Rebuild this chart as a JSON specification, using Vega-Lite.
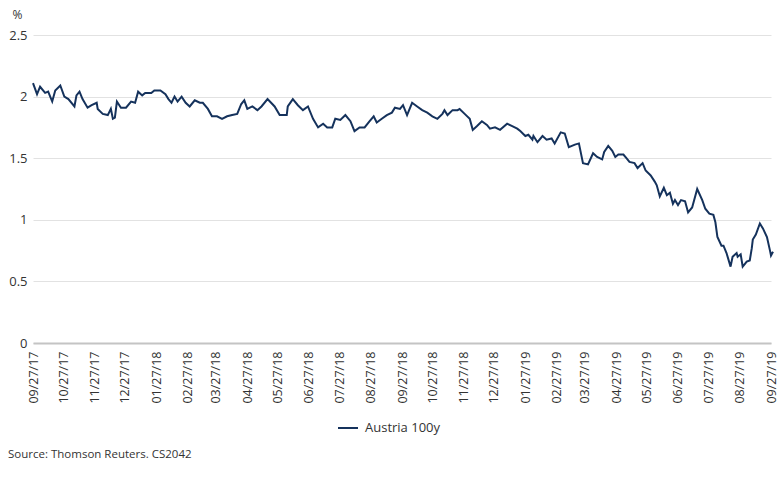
{
  "$schema": "https://vega.github.io/schema/vega-lite/v6.json",
  "width": 738,
  "height": 308,
  "autosize": {"type": "none"},
  "padding": {"left": 33, "top": 35, "right": 12, "bottom": 147},
  "background": "white",
  "config": {
    "view": {"stroke": null},
    "font": "Open Sans",
    "axis": {"labelFont": "Open Sans", "titleFont": "Open Sans", "labelColor": "#333333", "titleColor": "#333333"}
  },
  "title": {
    "text": "Source: Thomson Reuters. CS2042",
    "orient": "bottom",
    "anchor": "start",
    "frame": "group",
    "font": "Open Sans",
    "fontSize": 11.5,
    "fontWeight": "normal",
    "color": "#333333",
    "dx": -25,
    "offset": 14
  },
  "data": {
    "values": [
      {"date": "2017-09-27", "v": 2.11, "series": "Austria 100y"},
      {"date": "2017-10-01", "v": 2.02, "series": "Austria 100y"},
      {"date": "2017-10-04", "v": 2.08, "series": "Austria 100y"},
      {"date": "2017-10-09", "v": 2.03, "series": "Austria 100y"},
      {"date": "2017-10-12", "v": 2.04, "series": "Austria 100y"},
      {"date": "2017-10-16", "v": 1.96, "series": "Austria 100y"},
      {"date": "2017-10-19", "v": 2.05, "series": "Austria 100y"},
      {"date": "2017-10-24", "v": 2.09, "series": "Austria 100y"},
      {"date": "2017-10-28", "v": 2.00, "series": "Austria 100y"},
      {"date": "2017-11-01", "v": 1.98, "series": "Austria 100y"},
      {"date": "2017-11-07", "v": 1.92, "series": "Austria 100y"},
      {"date": "2017-11-09", "v": 2.01, "series": "Austria 100y"},
      {"date": "2017-11-12", "v": 2.04, "series": "Austria 100y"},
      {"date": "2017-11-15", "v": 1.98, "series": "Austria 100y"},
      {"date": "2017-11-20", "v": 1.91, "series": "Austria 100y"},
      {"date": "2017-11-24", "v": 1.93, "series": "Austria 100y"},
      {"date": "2017-11-29", "v": 1.95, "series": "Austria 100y"},
      {"date": "2017-11-30", "v": 1.90, "series": "Austria 100y"},
      {"date": "2017-12-05", "v": 1.86, "series": "Austria 100y"},
      {"date": "2017-12-10", "v": 1.85, "series": "Austria 100y"},
      {"date": "2017-12-13", "v": 1.90, "series": "Austria 100y"},
      {"date": "2017-12-15", "v": 1.82, "series": "Austria 100y"},
      {"date": "2017-12-17", "v": 1.83, "series": "Austria 100y"},
      {"date": "2017-12-19", "v": 1.96, "series": "Austria 100y"},
      {"date": "2017-12-23", "v": 1.91, "series": "Austria 100y"},
      {"date": "2017-12-28", "v": 1.91, "series": "Austria 100y"},
      {"date": "2018-01-02", "v": 1.96, "series": "Austria 100y"},
      {"date": "2018-01-06", "v": 1.95, "series": "Austria 100y"},
      {"date": "2018-01-09", "v": 2.04, "series": "Austria 100y"},
      {"date": "2018-01-13", "v": 2.01, "series": "Austria 100y"},
      {"date": "2018-01-16", "v": 2.03, "series": "Austria 100y"},
      {"date": "2018-01-22", "v": 2.03, "series": "Austria 100y"},
      {"date": "2018-01-25", "v": 2.05, "series": "Austria 100y"},
      {"date": "2018-01-31", "v": 2.05, "series": "Austria 100y"},
      {"date": "2018-02-05", "v": 2.02, "series": "Austria 100y"},
      {"date": "2018-02-08", "v": 1.98, "series": "Austria 100y"},
      {"date": "2018-02-11", "v": 1.95, "series": "Austria 100y"},
      {"date": "2018-02-14", "v": 2.00, "series": "Austria 100y"},
      {"date": "2018-02-17", "v": 1.96, "series": "Austria 100y"},
      {"date": "2018-02-21", "v": 2.00, "series": "Austria 100y"},
      {"date": "2018-02-25", "v": 1.95, "series": "Austria 100y"},
      {"date": "2018-03-01", "v": 1.92, "series": "Austria 100y"},
      {"date": "2018-03-06", "v": 1.97, "series": "Austria 100y"},
      {"date": "2018-03-11", "v": 1.95, "series": "Austria 100y"},
      {"date": "2018-03-14", "v": 1.95, "series": "Austria 100y"},
      {"date": "2018-03-19", "v": 1.90, "series": "Austria 100y"},
      {"date": "2018-03-23", "v": 1.84, "series": "Austria 100y"},
      {"date": "2018-03-28", "v": 1.84, "series": "Austria 100y"},
      {"date": "2018-04-02", "v": 1.82, "series": "Austria 100y"},
      {"date": "2018-04-07", "v": 1.84, "series": "Austria 100y"},
      {"date": "2018-04-12", "v": 1.85, "series": "Austria 100y"},
      {"date": "2018-04-17", "v": 1.86, "series": "Austria 100y"},
      {"date": "2018-04-21", "v": 1.94, "series": "Austria 100y"},
      {"date": "2018-04-24", "v": 1.97, "series": "Austria 100y"},
      {"date": "2018-04-27", "v": 1.90, "series": "Austria 100y"},
      {"date": "2018-05-02", "v": 1.92, "series": "Austria 100y"},
      {"date": "2018-05-07", "v": 1.89, "series": "Austria 100y"},
      {"date": "2018-05-11", "v": 1.92, "series": "Austria 100y"},
      {"date": "2018-05-17", "v": 1.98, "series": "Austria 100y"},
      {"date": "2018-05-24", "v": 1.92, "series": "Austria 100y"},
      {"date": "2018-05-29", "v": 1.85, "series": "Austria 100y"},
      {"date": "2018-06-05", "v": 1.85, "series": "Austria 100y"},
      {"date": "2018-06-06", "v": 1.92, "series": "Austria 100y"},
      {"date": "2018-06-11", "v": 1.98, "series": "Austria 100y"},
      {"date": "2018-06-16", "v": 1.93, "series": "Austria 100y"},
      {"date": "2018-06-21", "v": 1.89, "series": "Austria 100y"},
      {"date": "2018-06-26", "v": 1.92, "series": "Austria 100y"},
      {"date": "2018-07-01", "v": 1.82, "series": "Austria 100y"},
      {"date": "2018-07-06", "v": 1.75, "series": "Austria 100y"},
      {"date": "2018-07-11", "v": 1.78, "series": "Austria 100y"},
      {"date": "2018-07-15", "v": 1.75, "series": "Austria 100y"},
      {"date": "2018-07-20", "v": 1.75, "series": "Austria 100y"},
      {"date": "2018-07-23", "v": 1.82, "series": "Austria 100y"},
      {"date": "2018-07-28", "v": 1.81, "series": "Austria 100y"},
      {"date": "2018-08-02", "v": 1.85, "series": "Austria 100y"},
      {"date": "2018-08-07", "v": 1.80, "series": "Austria 100y"},
      {"date": "2018-08-11", "v": 1.72, "series": "Austria 100y"},
      {"date": "2018-08-16", "v": 1.75, "series": "Austria 100y"},
      {"date": "2018-08-21", "v": 1.75, "series": "Austria 100y"},
      {"date": "2018-08-26", "v": 1.80, "series": "Austria 100y"},
      {"date": "2018-08-30", "v": 1.84, "series": "Austria 100y"},
      {"date": "2018-09-02", "v": 1.79, "series": "Austria 100y"},
      {"date": "2018-09-07", "v": 1.82, "series": "Austria 100y"},
      {"date": "2018-09-12", "v": 1.85, "series": "Austria 100y"},
      {"date": "2018-09-17", "v": 1.87, "series": "Austria 100y"},
      {"date": "2018-09-20", "v": 1.91, "series": "Austria 100y"},
      {"date": "2018-09-25", "v": 1.90, "series": "Austria 100y"},
      {"date": "2018-09-28", "v": 1.93, "series": "Austria 100y"},
      {"date": "2018-10-02", "v": 1.85, "series": "Austria 100y"},
      {"date": "2018-10-07", "v": 1.95, "series": "Austria 100y"},
      {"date": "2018-10-12", "v": 1.92, "series": "Austria 100y"},
      {"date": "2018-10-17", "v": 1.89, "series": "Austria 100y"},
      {"date": "2018-10-22", "v": 1.87, "series": "Austria 100y"},
      {"date": "2018-10-27", "v": 1.84, "series": "Austria 100y"},
      {"date": "2018-11-01", "v": 1.82, "series": "Austria 100y"},
      {"date": "2018-11-06", "v": 1.86, "series": "Austria 100y"},
      {"date": "2018-11-08", "v": 1.89, "series": "Austria 100y"},
      {"date": "2018-11-11", "v": 1.85, "series": "Austria 100y"},
      {"date": "2018-11-16", "v": 1.89, "series": "Austria 100y"},
      {"date": "2018-11-21", "v": 1.89, "series": "Austria 100y"},
      {"date": "2018-11-23", "v": 1.90, "series": "Austria 100y"},
      {"date": "2018-11-28", "v": 1.86, "series": "Austria 100y"},
      {"date": "2018-12-03", "v": 1.82, "series": "Austria 100y"},
      {"date": "2018-12-06", "v": 1.73, "series": "Austria 100y"},
      {"date": "2018-12-10", "v": 1.76, "series": "Austria 100y"},
      {"date": "2018-12-15", "v": 1.80, "series": "Austria 100y"},
      {"date": "2018-12-20", "v": 1.77, "series": "Austria 100y"},
      {"date": "2018-12-23", "v": 1.74, "series": "Austria 100y"},
      {"date": "2018-12-28", "v": 1.75, "series": "Austria 100y"},
      {"date": "2019-01-02", "v": 1.73, "series": "Austria 100y"},
      {"date": "2019-01-09", "v": 1.78, "series": "Austria 100y"},
      {"date": "2019-01-14", "v": 1.76, "series": "Austria 100y"},
      {"date": "2019-01-19", "v": 1.74, "series": "Austria 100y"},
      {"date": "2019-01-22", "v": 1.72, "series": "Austria 100y"},
      {"date": "2019-01-27", "v": 1.68, "series": "Austria 100y"},
      {"date": "2019-01-30", "v": 1.69, "series": "Austria 100y"},
      {"date": "2019-02-03", "v": 1.65, "series": "Austria 100y"},
      {"date": "2019-02-04", "v": 1.68, "series": "Austria 100y"},
      {"date": "2019-02-08", "v": 1.63, "series": "Austria 100y"},
      {"date": "2019-02-13", "v": 1.68, "series": "Austria 100y"},
      {"date": "2019-02-17", "v": 1.65, "series": "Austria 100y"},
      {"date": "2019-02-22", "v": 1.66, "series": "Austria 100y"},
      {"date": "2019-02-25", "v": 1.62, "series": "Austria 100y"},
      {"date": "2019-03-03", "v": 1.71, "series": "Austria 100y"},
      {"date": "2019-03-07", "v": 1.70, "series": "Austria 100y"},
      {"date": "2019-03-11", "v": 1.59, "series": "Austria 100y"},
      {"date": "2019-03-17", "v": 1.61, "series": "Austria 100y"},
      {"date": "2019-03-21", "v": 1.62, "series": "Austria 100y"},
      {"date": "2019-03-25", "v": 1.46, "series": "Austria 100y"},
      {"date": "2019-03-30", "v": 1.45, "series": "Austria 100y"},
      {"date": "2019-04-04", "v": 1.54, "series": "Austria 100y"},
      {"date": "2019-04-08", "v": 1.51, "series": "Austria 100y"},
      {"date": "2019-04-13", "v": 1.49, "series": "Austria 100y"},
      {"date": "2019-04-15", "v": 1.55, "series": "Austria 100y"},
      {"date": "2019-04-19", "v": 1.60, "series": "Austria 100y"},
      {"date": "2019-04-23", "v": 1.56, "series": "Austria 100y"},
      {"date": "2019-04-26", "v": 1.51, "series": "Austria 100y"},
      {"date": "2019-04-29", "v": 1.53, "series": "Austria 100y"},
      {"date": "2019-05-04", "v": 1.53, "series": "Austria 100y"},
      {"date": "2019-05-07", "v": 1.50, "series": "Austria 100y"},
      {"date": "2019-05-10", "v": 1.47, "series": "Austria 100y"},
      {"date": "2019-05-15", "v": 1.46, "series": "Austria 100y"},
      {"date": "2019-05-18", "v": 1.42, "series": "Austria 100y"},
      {"date": "2019-05-23", "v": 1.46, "series": "Austria 100y"},
      {"date": "2019-05-26", "v": 1.40, "series": "Austria 100y"},
      {"date": "2019-05-31", "v": 1.36, "series": "Austria 100y"},
      {"date": "2019-06-04", "v": 1.31, "series": "Austria 100y"},
      {"date": "2019-06-06", "v": 1.28, "series": "Austria 100y"},
      {"date": "2019-06-09", "v": 1.19, "series": "Austria 100y"},
      {"date": "2019-06-13", "v": 1.26, "series": "Austria 100y"},
      {"date": "2019-06-16", "v": 1.20, "series": "Austria 100y"},
      {"date": "2019-06-19", "v": 1.22, "series": "Austria 100y"},
      {"date": "2019-06-22", "v": 1.13, "series": "Austria 100y"},
      {"date": "2019-06-24", "v": 1.16, "series": "Austria 100y"},
      {"date": "2019-06-27", "v": 1.12, "series": "Austria 100y"},
      {"date": "2019-06-30", "v": 1.16, "series": "Austria 100y"},
      {"date": "2019-07-04", "v": 1.15, "series": "Austria 100y"},
      {"date": "2019-07-07", "v": 1.06, "series": "Austria 100y"},
      {"date": "2019-07-11", "v": 1.10, "series": "Austria 100y"},
      {"date": "2019-07-16", "v": 1.25, "series": "Austria 100y"},
      {"date": "2019-07-21", "v": 1.16, "series": "Austria 100y"},
      {"date": "2019-07-24", "v": 1.09, "series": "Austria 100y"},
      {"date": "2019-07-28", "v": 1.05, "series": "Austria 100y"},
      {"date": "2019-08-01", "v": 1.04, "series": "Austria 100y"},
      {"date": "2019-08-03", "v": 0.98, "series": "Austria 100y"},
      {"date": "2019-08-05", "v": 0.86, "series": "Austria 100y"},
      {"date": "2019-08-09", "v": 0.79, "series": "Austria 100y"},
      {"date": "2019-08-11", "v": 0.79, "series": "Austria 100y"},
      {"date": "2019-08-14", "v": 0.73, "series": "Austria 100y"},
      {"date": "2019-08-18", "v": 0.62, "series": "Austria 100y"},
      {"date": "2019-08-20", "v": 0.70, "series": "Austria 100y"},
      {"date": "2019-08-24", "v": 0.73, "series": "Austria 100y"},
      {"date": "2019-08-25", "v": 0.70, "series": "Austria 100y"},
      {"date": "2019-08-28", "v": 0.72, "series": "Austria 100y"},
      {"date": "2019-08-30", "v": 0.62, "series": "Austria 100y"},
      {"date": "2019-09-03", "v": 0.66, "series": "Austria 100y"},
      {"date": "2019-09-06", "v": 0.67, "series": "Austria 100y"},
      {"date": "2019-09-08", "v": 0.77, "series": "Austria 100y"},
      {"date": "2019-09-09", "v": 0.84, "series": "Austria 100y"},
      {"date": "2019-09-12", "v": 0.88, "series": "Austria 100y"},
      {"date": "2019-09-16", "v": 0.97, "series": "Austria 100y"},
      {"date": "2019-09-19", "v": 0.93, "series": "Austria 100y"},
      {"date": "2019-09-23", "v": 0.86, "series": "Austria 100y"},
      {"date": "2019-09-26", "v": 0.75, "series": "Austria 100y"},
      {"date": "2019-09-27", "v": 0.71, "series": "Austria 100y"},
      {"date": "2019-09-29", "v": 0.74, "series": "Austria 100y"}
    ]
  },
  "mark": {"type": "line", "strokeWidth": 2, "interpolate": "linear", "clip": false},
  "encoding": {
    "x": {
      "field": "date",
      "type": "temporal",
      "scale": {"type": "utc", "domain": [{"year": 2017, "month": 9, "date": 27, "utc": true}, {"year": 2019, "month": 9, "date": 27, "utc": true}]},
      "axis": {
        "title": null,
        "values": [
          {"year": 2017, "month": 9, "date": 27, "utc": true},
          {"year": 2017, "month": 10, "date": 27, "utc": true},
          {"year": 2017, "month": 11, "date": 27, "utc": true},
          {"year": 2017, "month": 12, "date": 27, "utc": true},
          {"year": 2018, "month": 1, "date": 27, "utc": true},
          {"year": 2018, "month": 2, "date": 27, "utc": true},
          {"year": 2018, "month": 3, "date": 27, "utc": true},
          {"year": 2018, "month": 4, "date": 27, "utc": true},
          {"year": 2018, "month": 5, "date": 27, "utc": true},
          {"year": 2018, "month": 6, "date": 27, "utc": true},
          {"year": 2018, "month": 7, "date": 27, "utc": true},
          {"year": 2018, "month": 8, "date": 27, "utc": true},
          {"year": 2018, "month": 9, "date": 27, "utc": true},
          {"year": 2018, "month": 10, "date": 27, "utc": true},
          {"year": 2018, "month": 11, "date": 27, "utc": true},
          {"year": 2018, "month": 12, "date": 27, "utc": true},
          {"year": 2019, "month": 1, "date": 27, "utc": true},
          {"year": 2019, "month": 2, "date": 27, "utc": true},
          {"year": 2019, "month": 3, "date": 27, "utc": true},
          {"year": 2019, "month": 4, "date": 27, "utc": true},
          {"year": 2019, "month": 5, "date": 27, "utc": true},
          {"year": 2019, "month": 6, "date": 27, "utc": true},
          {"year": 2019, "month": 7, "date": 27, "utc": true},
          {"year": 2019, "month": 8, "date": 27, "utc": true},
          {"year": 2019, "month": 9, "date": 27, "utc": true}
        ],
        "format": "%m/%d/%y",
        "labelAngle": -90,
        "labelFontSize": 12.5,
        "labelPadding": 8,
        "labelOverlap": false,
        "labelBound": false,
        "labelFlush": false,
        "ticks": false,
        "grid": false,
        "domain": true,
        "domainColor": "#c4c4c4",
        "domainWidth": 2
      }
    },
    "y": {
      "field": "v",
      "type": "quantitative",
      "scale": {"domain": [0, 2.5], "nice": false, "zero": true},
      "axis": {
        "title": "%",
        "titleAngle": 0,
        "titleX": -21,
        "titleY": -21,
        "titleAlign": "left",
        "titleBaseline": "middle",
        "titleFontSize": 12,
        "titleFontWeight": "normal",
        "values": [0, 0.5, 1, 1.5, 2, 2.5],
        "format": "~g",
        "labelFontSize": 13,
        "labelPadding": 6,
        "ticks": false,
        "domain": false,
        "grid": true,
        "gridColor": "#e2e2e2",
        "gridWidth": 1
      }
    },
    "color": {
      "field": "series",
      "type": "nominal",
      "scale": {"range": ["#15325c"]},
      "legend": {
        "title": null,
        "orient": "none",
        "legendX": 304,
        "legendY": 382,
        "direction": "horizontal",
        "symbolType": "stroke",
        "symbolSize": 400,
        "symbolStrokeWidth": 2,
        "labelFont": "Open Sans",
        "labelFontSize": 13,
        "labelColor": "#333333",
        "labelOffset": 6,
        "padding": 0
      }
    }
  }
}
